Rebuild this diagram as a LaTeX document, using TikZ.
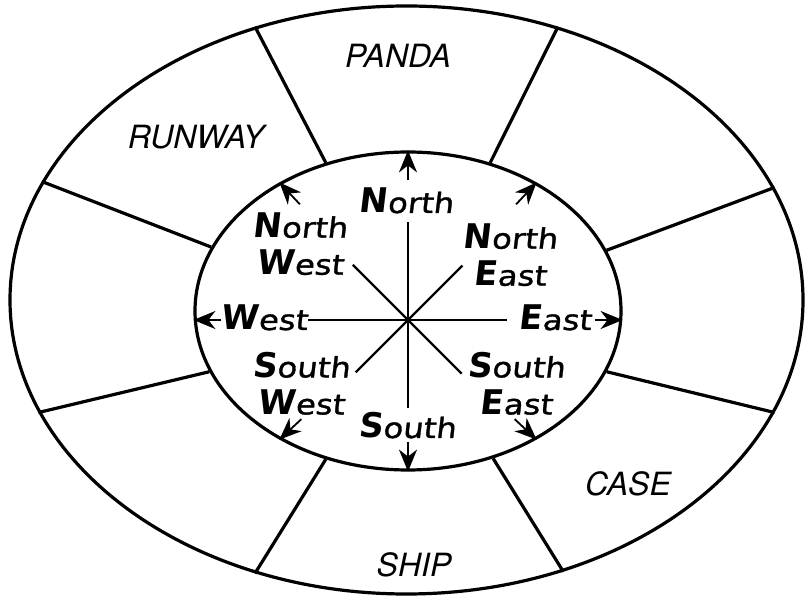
\documentclass[tikz,border=0pt]{standalone}
\usepackage{fontspec}
\newfontfamily\compassinit[FakeSlant=0.12]{DejaVu Sans}
\newfontfamily\compassrest[FakeSlant=0.12,FakeStretch=1.15,FakeBold=1.2]{DejaVu Sans}
\newfontfamily\ringfont{TeX Gyre Heros}
\usetikzlibrary{arrows.meta,positioning,shapes.geometric,calc}
\newcommand{\compasslabel}[2]{{\compassinit\bfseries\fontsize{34}{37}\selectfont #1}{\compassrest\fontsize{28}{37}\selectfont #2}}

\begin{document}
\begin{tikzpicture}[x=1pt,y=1pt,
  ringline/.style={draw, line width=3.2pt},
  ringlabel/.style={font=\ringfont\itshape\fontsize{32}{37}\selectfont},
  dirlabel/.style={font=\fontsize{28}{37}\selectfont, align=center, inner sep=0pt},
  rayline/.style={line width=2.4pt},
  dirarrow/.style={line width=1.8pt, -{Stealth[length=22pt, width=18pt, inset=7pt]}}]
  \useasboundingbox (0,0) rectangle (809,597);

  % Rings and spokes
  \node[ringline, ellipse, minimum width=793pt, minimum height=588pt, inner sep=0pt] (outer) at (406.5,297) {};
  \node[ringline, ellipse, minimum width=426pt, minimum height=318pt, inner sep=0pt] (inner) at (408,286) {};
  \foreach \a in {17,61,119,162,197,241,300,343}
    \draw[ringline] (inner.\a) -- (outer.\a);

  % Words in the ring
  \node[ringlabel] (panda) at (398,541) {PANDA};
  \node[ringlabel] (runway) at (196,460) {RUNWAY};
  \node[ringlabel] (case) at (628,113) {CASE};
  \node[ringlabel] (ship) at (414,32) {SHIP};

  % Compass rays
  \coordinate (c) at (408,277);
  \foreach \ang/\len in {90/98, 270/88, 180/100, 0/99, 45/77, 135/78, 225/74, 315/76}
    \draw[rayline] (c) -- ++(\ang:\len);
  \fill (c) circle (3);

  % Direction labels
  \node[dirlabel, anchor=base] (north) at (406,384) {\compasslabel{N}{orth}};
  \node[dirlabel, anchor=base] (south) at (407,159) {\compasslabel{S}{outh}};
  \node[dirlabel, anchor=base] (west) at (264,267) {\compasslabel{W}{est}};
  \node[dirlabel, anchor=base] (east) at (555,267) {\compasslabel{E}{ast}};
  \node[dirlabel] (northwest) at (300,353) {\compasslabel{N}{orth}\\\compasslabel{W}{est}};
  \node[dirlabel] (northeast) at (510,342) {\compasslabel{N}{orth}\\\compasslabel{E}{ast}};
  \node[dirlabel] (southwest) at (301,213.5) {\compasslabel{S}{outh}\\\compasslabel{W}{est}};
  \node[dirlabel] (southeast) at (516,213.5) {\compasslabel{S}{outh}\\\compasslabel{E}{ast}};

  % Arrows to the inner ring
  \coordinate (tipW) at (c -| inner.west);
  \coordinate (tipE) at (c -| inner.east);
  \foreach \ang in {45,90,135,225,270,315}
    \draw[dirarrow] ($(inner.\ang)!30pt!(c)$) -- (inner.\ang);
  \draw[dirarrow] ($(tipW)!28pt!(c)$) -- (tipW);
  \draw[dirarrow] ($(tipE)!28pt!(c)$) -- (tipE);
\end{tikzpicture}
\end{document}
